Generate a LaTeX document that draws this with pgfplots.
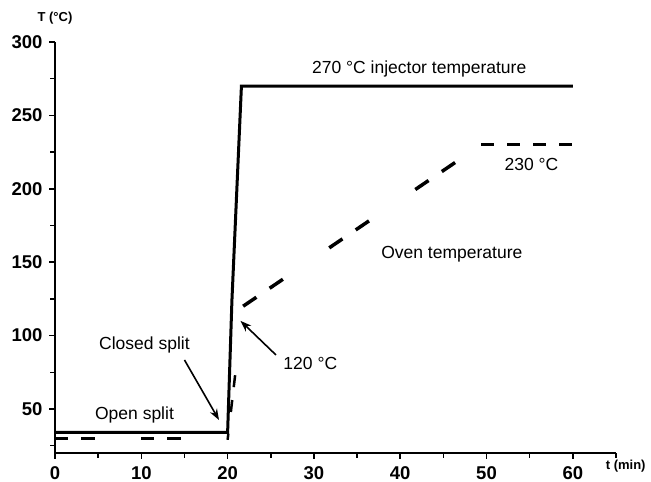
\documentclass[border=0pt]{standalone}
\usepackage{pgfplots}
\pgfplotsset{compat=1.18}
\usepackage{fontspec}
\setmainfont{Liberation Sans}
\usetikzlibrary{arrows.meta}

\begin{document}
\begin{tikzpicture}[x=1pt,y=1pt,
    txt/.style={font=\fontsize{17.5}{18}\selectfont},
    oven/.style={black, line width=3.5pt}]
\useasboundingbox (0,0) rectangle (651,482);
\begin{axis}[
    at={(55pt,29pt)}, anchor=south west,
    scale only axis, width=561pt, height=411pt,
    xmin=0, xmax=65, ymin=20, ymax=300,
    axis lines=left,
    axis line style={-, line width=2pt},
    xtick={0,10,...,60}, minor xtick={5,15,...,65},
    ytick={50,100,...,300}, minor ytick={25,75,...,275},
    tick align=outside,
    major tick length=6pt, minor tick length=5pt,
    every tick/.style={black, line width=1.5pt},
    tick label style={font=\fontsize{18.5}{18}\selectfont\bfseries},
    xticklabel style={yshift=-4pt},
    yticklabel style={xshift=-3pt},
    /pgf/number format/assume math mode=true,
    clip=false,
]
% injector temperature
\addplot[black, line width=3pt] coordinates {(0,34) (20,34) (20.5,124) (21.6,270) (60,270)};

% oven temperature, drawn piece by piece to keep the dashes of the original
\addplot[oven, dash pattern=on 13pt off 13pt on 14pt off 46pt] coordinates {(0,30) (20,30)};
\addplot[oven, line width=2.5pt, dash pattern=on 6pt off 22pt on 12pt off 13pt on 12pt off 100pt] coordinates {(20,29) (21.8,120)};
\addplot[oven, dash pattern=on 16pt off 16pt on 16pt off 56pt] coordinates {(21.8,120) (49.4,230)};
\addplot[oven, dash pattern=on 13pt off 13pt] coordinates {(49.4,230) (60,230)};

\node[txt] at (axis cs:42.2,281.6) {270 °C injector temperature};
\node[txt] at (axis cs:55.2,216.9) {230 °C};
\node[txt, anchor=west] at (axis cs:37.4,155.6) {Oven temperature};
\node[txt, anchor=west, inner sep=0pt] at (axis cs:5.1,93.6) {Closed split};
\node[txt, anchor=west, inner sep=0pt] at (axis cs:26.45,80.7) {120 °C};
\node[txt, anchor=east, inner sep=0pt] at (axis cs:13.8,45.9) {Open split};
\node[font=\fontsize{13}{13}\selectfont\bfseries] at (axis cs:0,316.3) {T (°C)};
\node[font=\fontsize{13}{13}\selectfont\bfseries, anchor=west, inner sep=0pt] at (axis cs:63.8,11.2) {t (min)};

\draw[line width=1.6pt, -{Stealth[length=11pt,width=8pt]}] (axis cs:15.0,83.4) -- (axis cs:19.0,42.5);
\draw[line width=1.6pt, -{Stealth[length=11pt,width=8pt]}] (axis cs:25.6,86.8) -- (axis cs:21.5,110);
\end{axis}
\end{tikzpicture}
\end{document}
